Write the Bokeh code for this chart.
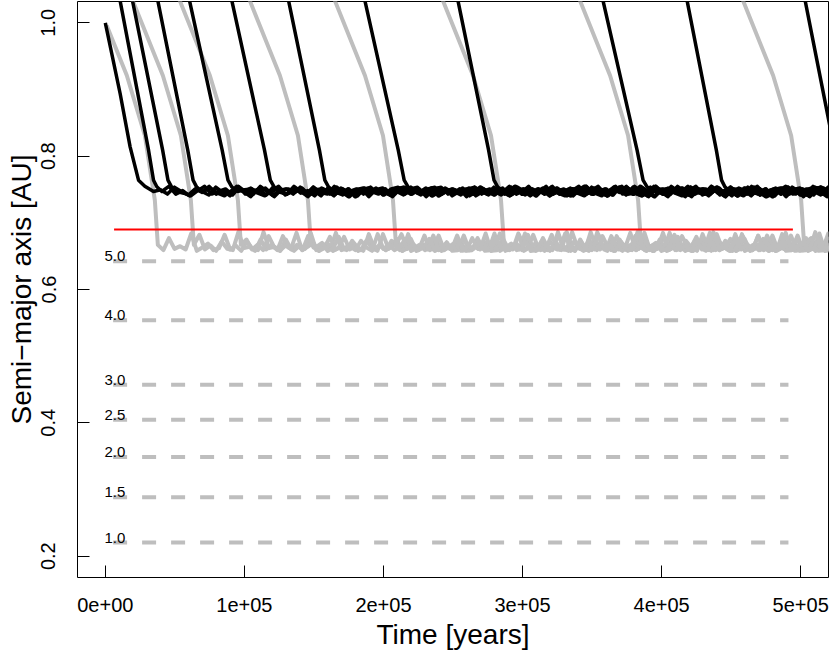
from bokeh.plotting import figure
from bokeh.models import Range1d, FixedTicker
from bokeh.core.properties import value
from bokeh.embed import file_html
from bokeh.resources import INLINE

# ---------------- data ----------------
x_ticks = [0, 100000, 200000, 300000, 400000, 500000]
x_tick_labels = ["0e+00", "1e+05", "2e+05", "3e+05", "4e+05", "5e+05"]
y_ticks = [0.2, 0.4, 0.6, 0.8, 1.0]
y_tick_labels = ["0.2", "0.4", "0.6", "0.8", "1.0"]

# resonance guide lines (period ratio labels and semi-major axis)
res_labels = ["5.0", "4.0", "3.0", "2.5", "2.0", "1.5", "1.0"]
res_a = [0.6423, 0.5537, 0.4572, 0.4045, 0.3488, 0.2885, 0.2204]
res_t_start = 5600
res_t_end = 491200
res_label_t = 6900

# red reference level
red_a = 0.690
red_t = [6300, 494400]

# black tracks: descent part (time [yr], a [AU])
black_t = [
    [0, 10650, 17840, 23880, 28420, 34670],
    [9100, 31090, 34670, 37050, 40650],
    [17920, 41220, 45040, 47630, 51440],
    [36140, 59280, 63090, 65610, 69420],
    [58790, 84030, 88200, 90930, 95110],
    [89220, 114460, 118630, 121360, 125530],
    [130110, 153950, 157840, 160490, 164380],
    [184860, 210640, 214890, 217690, 221940],
    [251920, 275600, 279490, 282080, 285960],
    [356040, 382360, 386670, 389550, 393870],
    [416750, 439360, 443100, 445540, 449280],
    [501630, 524410, 528500, 531200, 535000],
]
black_a = [
    [1.0, 0.894, 0.814, 0.764, 0.755, 0.747],
    [1.05, 0.809, 0.764, 0.754, 0.747],
    [1.05, 0.809, 0.764, 0.754, 0.747],
    [1.05, 0.809, 0.764, 0.754, 0.747],
    [1.05, 0.809, 0.764, 0.754, 0.747],
    [1.05, 0.809, 0.764, 0.754, 0.747],
    [1.05, 0.809, 0.764, 0.754, 0.747],
    [1.05, 0.809, 0.764, 0.754, 0.747],
    [1.05, 0.809, 0.764, 0.754, 0.747],
    [1.05, 0.809, 0.764, 0.754, 0.747],
    [1.05, 0.809, 0.764, 0.754, 0.747],
    [1.05, 0.809, 0.764, 0.754, 0.747],
]
black_level = 0.747
# wiggle of the black plateau (units of 0.0013 AU)
black_wiggle = [2, -3, 5, 0, -4, 3, -1, 6, -3, 1, -5, 3, 0, 4, -2, -5, 1, 6, -3, 0,
                3, -4, 5, -1, -3, 6, 0, -6, 2, 3, -1, 4, -4, 0, 3, -3, 5, -2, 1, -5,
                4, 0, -3, 3, -6, 2, 4, -1, 0, -4, 3, 5, -3, 2, -1, 4, -5, 0, 3, -2]

# grey tracks: descent part
grey_t = [
    [1000, 15470, 28420, 35610, 37770],
    [14580, 19780, 41370, 54320, 61510, 63670],
    [48400, 53600, 75180, 88130, 95320, 97480],
    [98760, 103960, 125540, 138490, 145680, 147840],
    [159910, 165110, 186690, 199640, 206830, 208990],
    [237600, 242800, 264380, 277330, 284520, 286680],
    [336160, 341360, 362940, 375890, 383080, 385240],
    [453410, 458610, 480190, 493140, 500330, 502490],
]
grey_a = [
    [0.996, 0.921, 0.831, 0.734, 0.667],
    [1.06, 1.033, 0.921, 0.831, 0.734, 0.667],
    [1.06, 1.033, 0.921, 0.831, 0.734, 0.667],
    [1.06, 1.033, 0.921, 0.831, 0.734, 0.667],
    [1.06, 1.033, 0.921, 0.831, 0.734, 0.667],
    [1.06, 1.033, 0.921, 0.831, 0.734, 0.667],
    [1.06, 1.033, 0.921, 0.831, 0.734, 0.667],
    [1.06, 1.033, 0.921, 0.831, 0.734, 0.667],
]
grey_level = 0.657
# spiky oscillation of the grey plateau (units of 0.001 AU above level)
grey_wiggle = [2, 20, 4, 8, 3, 27, 1, 6, 12, 2, 5, 25, 3, 9, 1, 15, 4, 2, 29, 5,
               7, 1, 18, 3, 10, 2, 23, 6, 1, 9, 4, 28, 2, 7, 13, 1, 5, 22, 3, 8,
               2, 16, 6, 1, 26, 4, 10, 2, 7, 19, 1, 5, 11, 3, 24, 2, 8, 4, 14, 1]

T_END = 525000


def with_plateau(ts, vs, base, wig, step, off, scale):
    ts = list(ts)
    vs = list(vs)
    t = ts[-1] + step
    k = 0
    while t <= T_END:
        ts.append(t)
        vs.append(base + wig[(k + off) % len(wig)] * scale)
        k += 1
        t += step
    return ts, vs


FONT = "Liberation Sans"

p = figure(width=830, height=652,
           x_range=Range1d(-20000, 520000), y_range=Range1d(0.168, 1.032),
           output_backend="svg", toolbar_location=None,
           min_border_left=77, min_border_right=2,
           min_border_top=1, min_border_bottom=73)
p.background_fill_color = "white"
p.border_fill_color = "white"
p.xgrid.visible = False
p.ygrid.visible = False
p.outline_line_color = "black"
p.outline_line_width = 1
p.outline_line_alpha = 1.0

for ax in (p.xaxis, p.yaxis):
    ax.axis_line_color = None
    ax.major_tick_in = 12
    ax.major_tick_out = 0
    ax.minor_tick_in = 0
    ax.minor_tick_out = 0
    ax.major_tick_line_color = "black"
    ax.major_tick_line_width = 1
    ax.major_label_text_font = FONT
    ax.major_label_text_font_size = "20px"
    ax.major_label_text_color = "black"
    ax.axis_label_text_font = FONT
    ax.axis_label_text_font_size = "28px"
    ax.axis_label_text_font_style = "normal"
    ax.axis_label_text_color = "black"

p.xaxis.ticker = FixedTicker(ticks=x_ticks)
p.xaxis.major_label_overrides = {t: l for t, l in zip(x_ticks, x_tick_labels)}
p.xaxis.major_label_standoff = 20
p.xaxis.axis_label = "Time [years]"
p.xaxis.axis_label_standoff = 4

p.yaxis.ticker = FixedTicker(ticks=y_ticks)
p.yaxis.major_label_overrides = {t: l for t, l in zip(y_ticks, y_tick_labels)}
p.yaxis.major_label_orientation = "vertical"
p.yaxis.major_label_standoff = 22
p.yaxis.axis_label = "Semi\u2212major axis [AU]"
p.yaxis.axis_label_standoff = 2

# resonance guide lines
for lab, a in zip(res_labels, res_a):
    p.line([res_t_start, res_t_end], [a, a], line_color="#BEBEBE", line_width=4,
           line_dash="14 15", line_cap="butt")
p.text(x=[res_label_t] * len(res_labels), y=res_a, text=res_labels,
       text_font=value(FONT), text_font_size="15px", text_color="black",
       text_align="center", text_baseline="alphabetic", y_offset=-5)

# grey tracks
for i, (ts, vs) in enumerate(zip(grey_t, grey_a)):
    tt, vv = with_plateau(ts, vs, grey_level, grey_wiggle, 4000, 11 * i, 0.001)
    p.line(tt, vv, line_color="#BEBEBE", line_width=4, line_join="round")

# black tracks
for i, (ts, vs) in enumerate(zip(black_t, black_a)):
    tt, vv = with_plateau(ts, vs, black_level, black_wiggle, 5000, 7 * i, 0.0013)
    p.line(tt, vv, line_color="black", line_width=3.5, line_join="round")

# red level
p.line(red_t, [red_a, red_a], line_color="#FF0000", line_width=2)

open("out.html", "w").write(file_html(p, INLINE))
